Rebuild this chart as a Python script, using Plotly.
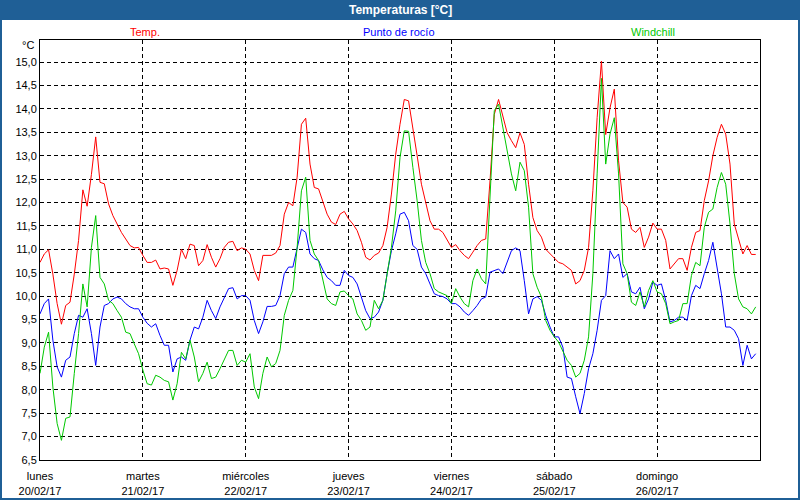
import pandas as pd
import plotly.graph_objects as go

# hourly samples starting lunes 20/02/17 00:00
start = "2017-02-20 00:00"

temp = [
    10.72, 10.90, 10.99, 10.47, 9.84, 9.40, 9.80, 9.87, 10.47, 11.19, 12.27, 11.92,
    12.60, 13.40, 12.43, 12.40, 11.97, 11.72, 11.54, 11.36, 11.22, 11.08, 11.03, 11.04,
    10.87, 10.72, 10.72, 10.77, 10.58, 10.60, 10.58, 10.23, 10.55, 11.00, 10.80, 11.11,
    11.08, 10.65, 10.76, 11.10, 10.83, 10.62, 10.80, 11.04, 11.15, 11.17, 10.97,
    11.03, 11.00, 10.90, 10.55, 10.33, 10.87, 10.87, 10.87, 10.92, 11.08, 11.75, 12.00,
    11.93, 12.54, 13.67, 13.80, 12.82, 12.32, 12.29, 12.04, 11.75, 11.58, 11.53, 11.75,
    11.81, 11.65, 11.54, 11.40, 11.15, 10.83, 10.77, 10.87, 10.92, 11.08, 11.47, 12.18,
    13.03, 13.67, 14.20, 14.17, 13.53, 13.00, 12.39, 11.97, 11.61, 11.43,
    11.43, 11.36, 11.19, 11.04, 11.10, 10.97, 10.87, 10.80, 10.94, 11.08, 11.19, 11.22,
    12.46, 13.88, 14.20, 13.85, 13.49, 13.32, 13.17, 13.49, 13.24, 12.39, 11.68, 11.40,
    11.26, 11.00, 10.90, 10.80, 10.72, 10.69, 10.62, 10.55, 10.26, 10.33, 10.55, 11.04,
    12.25, 13.81, 15.02, 13.45, 14.02, 14.42, 12.89, 12.00, 11.90, 11.43,
    11.36, 11.47, 11.04, 11.26, 11.56, 11.43, 11.43, 11.19, 10.58, 10.69, 10.80, 10.80,
    10.55, 11.04, 11.36, 11.40, 12.04, 12.46, 13.00, 13.39, 13.67, 13.46, 12.82, 11.54,
    11.19, 10.90, 11.08, 10.89, 10.89,
]

dew = [
    9.62, 9.84, 9.94, 9.06, 8.49, 8.27, 8.63, 8.70, 9.20, 9.59, 9.55, 9.73,
    9.20, 8.52, 9.34, 9.80, 9.84, 9.94, 9.98, 9.94, 9.84, 9.77, 9.73, 9.73,
    9.55, 9.42, 9.34, 9.41, 9.16, 8.95, 8.95, 8.38, 8.66, 8.70, 8.63, 9.06,
    9.34, 9.30, 9.55, 9.91, 9.69, 9.52, 9.77, 9.98, 10.16, 10.18, 9.94,
    10.01, 10.01, 9.91, 9.48, 9.20, 9.45, 9.78, 9.78, 9.80, 10.01, 10.48, 10.62,
    10.62, 11.04, 11.43, 11.36, 10.90, 10.80, 10.76, 10.56, 10.40, 10.33, 10.23, 10.23,
    10.55, 10.44, 10.40, 10.26, 9.98, 9.69, 9.52, 9.55, 9.66, 9.91, 10.48, 10.97,
    11.33, 11.75, 11.79, 11.61, 11.08, 11.00, 10.62, 10.48, 10.26, 10.05,
    10.01, 9.99, 9.94, 9.84, 9.84, 9.77, 9.66, 9.59, 9.69, 9.80, 9.94, 9.98,
    10.51, 10.55, 10.58, 10.48, 10.72, 10.97, 11.03, 10.97, 10.33, 9.62, 9.94, 9.99,
    9.91, 9.59, 9.34, 9.13, 9.13, 8.91, 8.27, 8.24, 7.85, 7.49, 7.92, 8.45,
    8.77, 9.27, 9.91, 10.01, 10.97, 10.80, 10.90, 10.40, 10.48, 10.09,
    10.05, 10.19, 9.73, 9.94, 10.30, 10.23, 10.26, 9.91, 9.45, 9.48, 9.55, 9.55,
    9.48, 10.01, 10.23, 10.16, 10.48, 10.76, 11.15, 10.55, 10.05, 9.34, 9.34, 9.27,
    9.09, 8.52, 8.95, 8.66, 8.77,
]

windchill = [
    8.35, 8.91, 9.23, 8.06, 7.28, 6.92, 7.39, 7.42, 8.35, 9.20, 10.26, 9.77,
    11.04, 11.72, 10.40, 10.26, 9.91, 9.84, 9.69, 9.55, 9.23, 9.20, 8.98, 8.77,
    8.42, 8.13, 8.10, 8.31, 8.27, 8.20, 8.17, 7.78, 8.13, 8.80, 8.66, 9.06,
    8.70, 8.17, 8.35, 8.59, 8.24, 8.27, 8.45, 8.66, 8.84, 8.84, 8.52,
    8.63, 8.59, 8.77, 8.06, 7.81, 8.35, 8.70, 8.49, 8.56, 8.84, 9.59, 9.91,
    10.12, 11.04, 12.25, 12.54, 11.19, 10.90, 10.76, 10.33, 9.94, 9.84, 9.80, 10.09,
    10.11, 10.01, 9.94, 9.62, 9.48, 9.27, 9.34, 9.91, 9.73, 9.91, 10.48, 11.04,
    11.82, 12.96, 13.53, 13.52, 12.75, 12.04, 11.19, 10.72, 10.48, 10.16,
    10.09, 10.05, 10.01, 9.84, 10.16, 9.98, 9.84, 9.77, 10.33, 10.58, 10.37, 10.26,
    12.04, 13.96, 14.10, 13.60, 13.03, 12.61, 12.25, 12.86, 12.68, 11.90, 10.48, 10.19,
    9.98, 9.48, 9.27, 9.13, 9.02, 8.84, 8.63, 8.52, 8.27, 8.35, 8.63, 9.13,
    10.48, 12.61, 14.65, 12.82, 13.46, 13.81, 12.61, 10.69, 10.48, 9.87,
    9.80, 10.09, 9.77, 10.12, 10.33, 10.09, 10.05, 9.84, 9.41, 9.45, 9.48, 9.84,
    9.84, 10.44, 10.72, 10.65, 11.47, 11.79, 11.86, 12.32, 12.64, 12.39, 11.54, 10.48,
    9.94, 9.77, 9.73, 9.62, 9.77,
]

day_names = ["lunes", "martes", "miércoles", "jueves", "viernes", "sábado", "domingo"]
day_dates = ["20/02/17", "21/02/17", "22/02/17", "23/02/17", "24/02/17", "25/02/17", "26/02/17"]

times = pd.date_range(start, periods=len(temp), freq="h")
day_ticks = pd.date_range("2017-02-20", periods=7, freq="D")

RED = "#ff0000"
BLUE = "#0000ff"
GREEN = "#00c800"
FRAME = "#1f5f96"
FONT = "Liberation Sans"

fig = go.Figure()
fig.add_trace(go.Scatter(x=times, y=temp, mode="lines", line=dict(color=RED, width=1), name="Temp."))
fig.add_trace(go.Scatter(x=times, y=dew, mode="lines", line=dict(color=BLUE, width=1), name="Punto de rocío"))
fig.add_trace(go.Scatter(x=times, y=windchill, mode="lines", line=dict(color=GREEN, width=1), name="Windchill"))

yticks = [6.5 + 0.5 * i for i in range(18)]

fig.update_layout(
    width=800, height=500,
    margin=dict(l=40, r=40, t=40, b=40),
    paper_bgcolor="white", plot_bgcolor="white",
    showlegend=False,
    separators=",.",
    font=dict(family=FONT, size=11, color="black"),
    xaxis=dict(
        range=[pd.Timestamp("2017-02-20"), pd.Timestamp("2017-02-27")],
        tickvals=list(day_ticks),
        ticktext=[f"{n}<br>{d}" for n, d in zip(day_names, day_dates)],
        showgrid=True, gridcolor="black", gridwidth=1, griddash="4px,3px",
        showline=True, linecolor="black", linewidth=1, mirror=True,
        zeroline=False, ticks="", ticklabelstandoff=6, automargin=False,
        tickfont=dict(family=FONT, size=11),
    ),
    yaxis=dict(
        range=[6.5, 15.47],
        tickvals=yticks,
        tickformat=".1f",
        showgrid=True, gridcolor="black", gridwidth=1, griddash="4px,3px",
        showline=True, linecolor="black", linewidth=1, mirror=True,
        zeroline=False, ticks="", automargin=False,
        tickfont=dict(family=FONT, size=11),
    ),
)

# outer frame and title bar
fig.add_shape(type="rect", xref="paper", yref="paper",
              x0=-40 / 720, x1=760 / 720, y0=440 / 420, y1=460 / 420,
              fillcolor=FRAME, line=dict(width=0), layer="below")
fig.add_shape(type="rect", xref="paper", yref="paper",
              x0=-39 / 720, x1=759 / 720, y0=-39 / 420, y1=459 / 420,
              line=dict(color=FRAME, width=2), fillcolor="rgba(0,0,0,0)")

fig.add_annotation(text="<b>Temperaturas [°C]</b>", xref="paper", yref="paper",
                   x=0.5, y=450 / 420, xanchor="center", yanchor="middle",
                   showarrow=False, font=dict(family=FONT, size=12, color="white"))

for txt, col, xp in [("Temp.", RED, 0.146), ("Punto de rocío", BLUE, 0.498), ("Windchill", GREEN, 0.851)]:
    fig.add_annotation(text=txt, xref="paper", yref="paper", x=xp, y=428 / 420,
                       xanchor="center", yanchor="middle", showarrow=False,
                       font=dict(family=FONT, size=11, color=col))

fig.add_annotation(text="°C", xref="paper", yref="paper", x=0, y=1,
                   xanchor="right", yanchor="top", xshift=-4, yshift=3,
                   showarrow=False, font=dict(family=FONT, size=11, color="black"))

fig.write_html("out.html", config={"displayModeBar": False},
               post_script="document.body.style.margin='0px';")
